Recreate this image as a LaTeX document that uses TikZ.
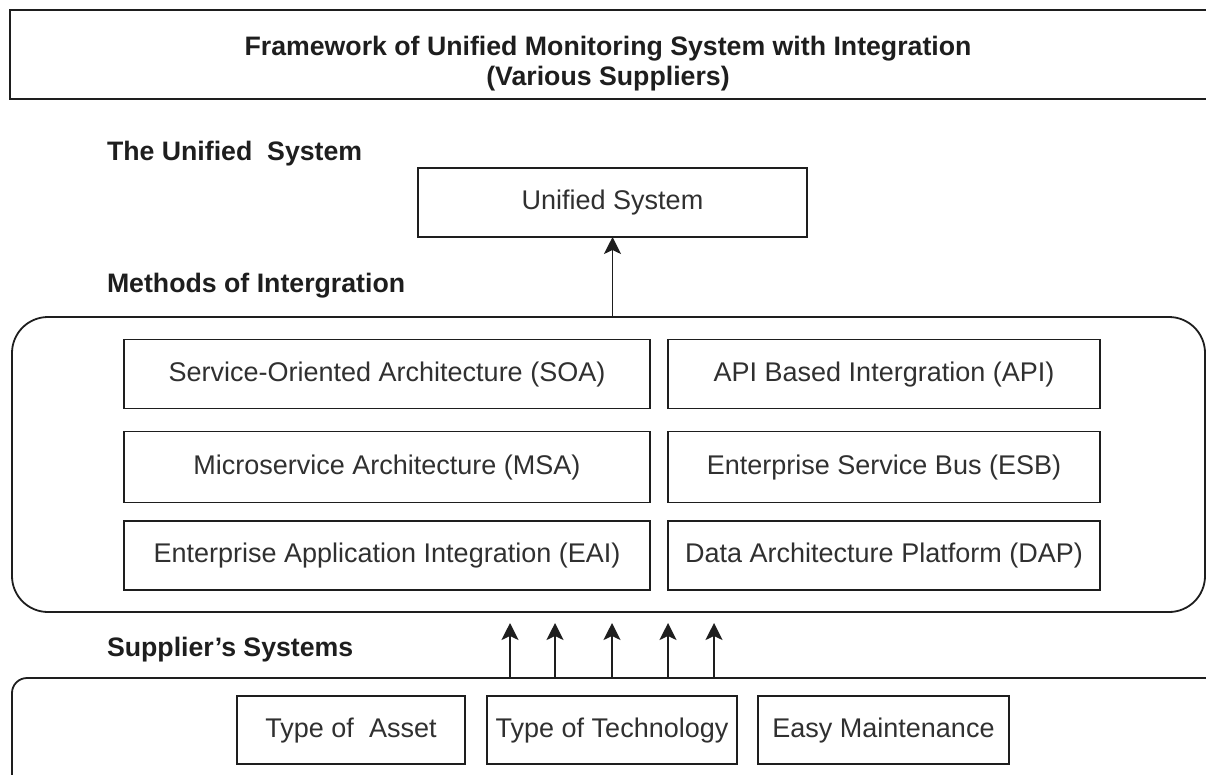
\documentclass[tikz,border=0pt]{standalone}
\usepackage{fontspec}
\setmainfont{Liberation Sans}
\usetikzlibrary{arrows.meta,calc}
\definecolor{ln}{HTML}{1E1E1E}
\definecolor{tx}{HTML}{303030}
\begin{document}
\begin{tikzpicture}[x=1pt,y=-1pt,
  every node/.style={inner sep=0pt,outer sep=0pt},
  lbl/.style={font=\fontsize{26.7}{30}\selectfont\bfseries, text=ln, anchor=base west},
  box/.style={draw=ln, line width=1.8pt, fill=white, font=\fontsize{27}{30}\selectfont, text=tx,
     text height=19pt, text depth=5pt, minimum height=69pt},
  outer/.style={draw=ln, line width=1.8pt},
  arr/.style={draw=ln, line width=1.8pt, -{Stealth[length=17pt,width=17pt,inset=4pt]}}]
\useasboundingbox (0,0) rectangle (1206,774);
\clip (0,0) rectangle (1206,774);
% title box
\node[draw=ln, line width=1.8pt, minimum width=1215pt, minimum height=89pt, anchor=north west] (titlebox) at (10,10) {};
\node[font=\fontsize{26.7}{30}\selectfont\bfseries, text=ln, align=center] (title) at (608,64)
  {Framework of Unified Monitoring System with Integration\\(Various Suppliers)};
% section labels
\node[lbl] (l1) at (107,160.5) {The Unified\ \ System};
\node[lbl] (l2) at (107,292.5) {Methods of Intergration};
\node[lbl] (l3) at (107,656) {Supplier's Systems};
% unified system
\node[box, minimum width=389pt] (uni) at (612.5,202.5) {Unified System};
% methods container
\node[outer, rounded corners=36pt, minimum width=1193pt, minimum height=295pt] (methods) at (608.5,464.5) {};
\node[box, minimum width=526pt] (soa) at (387,374) {Service-Oriented Architecture (SOA)};
\node[box, minimum width=432pt] (api) at (884,374) {API Based Intergration (API)};
\node[box, minimum width=526pt, minimum height=71pt] (msa) at (387,467) {Microservice Architecture (MSA)};
\node[box, minimum width=432pt, minimum height=71pt] (esb) at (884,467) {Enterprise Service Bus (ESB)};
\node[box, minimum width=526pt] (eai) at (387,555.5) {Enterprise Application Integration (EAI)};
\node[box, minimum width=432pt] (dap) at (884,555.5) {Data Architecture Platform (DAP)};
% supplier container
\node[outer, rounded corners=15pt, minimum width=1208pt, minimum height=130pt, anchor=north west] (sup) at (12,678) {};
\node[box, minimum width=228pt, minimum height=68pt] (asset) at (351,730) {Type of\ \ Asset};
\node[box, minimum width=250pt, minimum height=68pt] (tech) at (612,730) {Type of Technology};
\node[box, minimum width=251pt, minimum height=68pt] (easy) at (883.5,730) {Easy Maintenance};
% arrows
\draw[arr] (methods.north -| uni.south) -- (uni.south);
\foreach \i/\xx in {1/510,2/555,3/612,4/668,5/714}{
  \coordinate (t\i) at (\xx,623);
  \draw[arr] (sup.north -| t\i) -- (t\i);
}
\end{tikzpicture}
\end{document}
